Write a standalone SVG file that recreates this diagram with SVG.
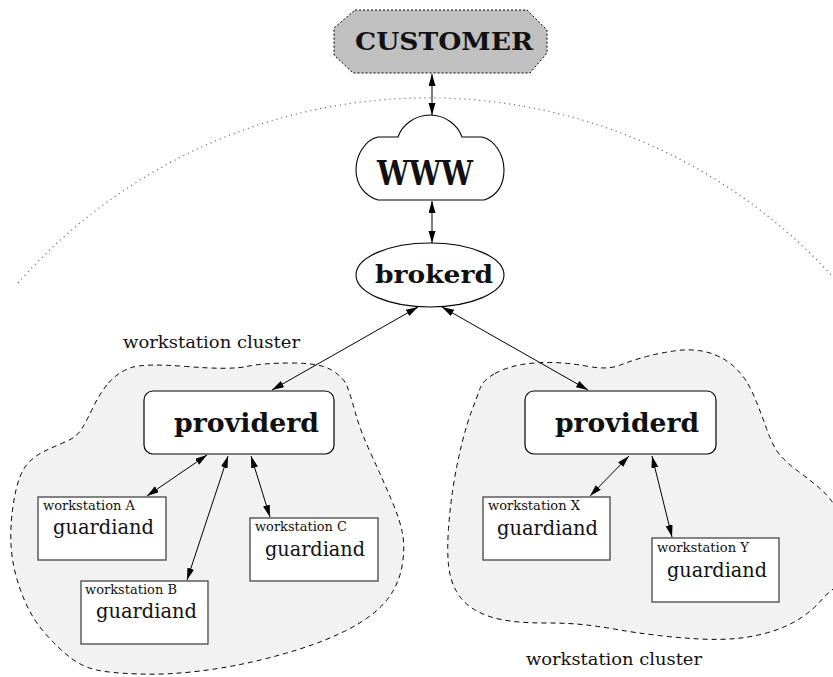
<svg xmlns="http://www.w3.org/2000/svg" width="833" height="677" viewBox="0 0 833 677">
<defs>
<marker id="ah" markerUnits="userSpaceOnUse" markerWidth="13" markerHeight="8" refX="12" refY="3.5" orient="auto-start-reverse">
<path d="M0,0 L12,3.5 L0,7 z" fill="#000"/>
</marker>
<style>
.t{font-family:"DejaVu Serif","Liberation Serif",serif;fill:#111}
.b{font-weight:bold}
.blob{fill:#f2f2f2;stroke:#000;stroke-width:1;stroke-dasharray:5 4}
.ws{fill:#fff;stroke:#444;stroke-width:1.3}
.prov{fill:#fff;stroke:#000;stroke-width:1.2}
.edge{stroke:#000;stroke-width:1;fill:none;marker-start:url(#ah);marker-end:url(#ah)}
</style>
</defs>
<rect width="833" height="677" fill="#fff"/>
<path id="boundary" d="M18,283 A547,547 0 0 1 833,277" fill="none" stroke="#555" stroke-width="1.2" stroke-dasharray="1 4"/>

<g id="cluster-left">
<path class="blob" d="M108.5,383 Q117,373 130,368 Q143,363 186.5,366.5 Q230,370 246.5,366.5 Q263,363 291.5,363 Q320,363 331.5,370 Q343,377 346.5,385 Q350,393 355,411.5 Q360,430 371.5,455 Q383,480 391.5,500 Q400,520 402.5,533.5 Q405,547 402.5,563.5 Q400,580 391.5,593.5 Q383,607 366.5,618.5 Q350,630 325,640 Q300,650 266.5,658.5 Q233,667 200,671 Q167,675 138.5,674 Q110,673 96.5,670 Q83,667 71.5,658.5 Q60,650 46.5,635 Q33,620 25,601.5 Q17,583 13.5,565 Q10,547 11,527 Q12,507 16,490 Q20,473 26.5,465 Q33,457 43,452 Q53,447 65,442 Q77,437 82,428.5 Q87,420 93.5,406.5 Q100,393 108.5,383 Z"/>
<text class="t" x="123" y="348" font-size="17.5" textLength="177" lengthAdjust="spacingAndGlyphs">workstation cluster</text>
</g>

<g id="cluster-right">
<path class="blob" d="M495,373.5 Q507,367 522,364.5 Q537,362 553.5,362.5 Q570,363 589,366.5 Q608,370 620.5,365 Q633,360 646.5,356.5 Q660,353 673.5,351 Q687,349 698.5,350.5 Q710,352 720,357 Q730,362 738.5,371 Q747,380 753.5,395 Q760,410 766.5,428.5 Q773,447 780,455 Q787,463 798.5,471.5 Q810,480 820,488.5 Q830,497 840,513.5 Q850,530 850,555 Q850,580 840,585 Q830,590 821.5,600 Q813,610 800,618.5 Q787,627 770,632 Q753,637 736.5,638.5 Q720,640 700,639 Q680,638 658.5,635.5 Q637,633 620,630 Q603,627 586.5,625 Q570,623 545,623 Q520,623 503.5,620 Q487,617 475,610 Q463,603 456.5,591.5 Q450,580 448.5,565 Q447,550 448.5,528.5 Q450,507 453.5,485 Q457,463 462,443 Q467,423 472,410 Q477,397 480,388.5 Q483,380 495,373.5 Z"/>
<text class="t" x="526" y="665" font-size="17.5" textLength="176" lengthAdjust="spacingAndGlyphs">workstation cluster</text>
</g>

<g id="customer">
<polygon points="355,10 527,10 547,30 547,53 530,73 353,73 334,55 334,28" fill="#c0c0c0" stroke="#000" stroke-width="1" stroke-dasharray="2 2"/>
<text class="t b" x="355" y="50" font-size="24" textLength="178" lengthAdjust="spacingAndGlyphs">CUSTOMER</text>
</g>

<g id="www">
<path d="M378,137 L398,137 C402,125 415,115 430,115 C445,115 458,125 462,137 L482,137 C495,140 504,155 504,170 C504,185 497,196 484,200 L378,200 C365,196 356,185 356,170 C356,155 365,140 378,137 Z" fill="#fff" stroke="#000" stroke-width="1.1"/>
<text class="t b" x="377" y="185" font-size="34" textLength="96" lengthAdjust="spacingAndGlyphs">WWW</text>
</g>

<g id="brokerd">
<ellipse cx="430" cy="275" rx="74" ry="32" fill="#fff" stroke="#000" stroke-width="1.1"/>
<text class="t b" x="375" y="283" font-size="24" textLength="118" lengthAdjust="spacingAndGlyphs">brokerd</text>
</g>

<g id="providerd-left">
<rect class="prov" x="144" y="391" width="190" height="63" rx="9"/>
<text class="t b" x="174" y="432" font-size="26" textLength="145" lengthAdjust="spacingAndGlyphs">providerd</text>
</g>

<g id="providerd-right">
<rect class="prov" x="525" y="391" width="191" height="63" rx="9"/>
<text class="t b" x="555" y="432" font-size="26" textLength="144" lengthAdjust="spacingAndGlyphs">providerd</text>
</g>

<g id="ws-a">
<rect class="ws" x="38" y="497" width="128" height="63"/>
<text class="t" x="43" y="510" font-size="12.5" textLength="92" lengthAdjust="spacingAndGlyphs">workstation A</text>
<text class="t" x="53" y="534" font-size="19.5" textLength="101" lengthAdjust="spacingAndGlyphs">guardiand</text>
</g>

<g id="ws-b">
<rect class="ws" x="81" y="581" width="127" height="63"/>
<text class="t" x="85" y="594" font-size="12.5" textLength="92" lengthAdjust="spacingAndGlyphs">workstation B</text>
<text class="t" x="96" y="618" font-size="19.5" textLength="101" lengthAdjust="spacingAndGlyphs">guardiand</text>
</g>

<g id="ws-c">
<rect class="ws" x="250" y="518" width="128" height="63"/>
<text class="t" x="255" y="531" font-size="12.5" textLength="92" lengthAdjust="spacingAndGlyphs">workstation C</text>
<text class="t" x="265" y="556" font-size="19.5" textLength="100" lengthAdjust="spacingAndGlyphs">guardiand</text>
</g>

<g id="ws-x">
<rect class="ws" x="483" y="497" width="127" height="63"/>
<text class="t" x="488" y="510" font-size="12.5" textLength="92" lengthAdjust="spacingAndGlyphs">workstation X</text>
<text class="t" x="497" y="535" font-size="19.5" textLength="101" lengthAdjust="spacingAndGlyphs">guardiand</text>
</g>

<g id="ws-y">
<rect class="ws" x="652" y="538" width="127" height="64"/>
<text class="t" x="657" y="552" font-size="12.5" textLength="92" lengthAdjust="spacingAndGlyphs">workstation Y</text>
<text class="t" x="667" y="577" font-size="19.5" textLength="100" lengthAdjust="spacingAndGlyphs">guardiand</text>
</g>

<g id="connectors">
<line class="edge" x1="432" y1="74" x2="432" y2="115"/>
<line class="edge" x1="432" y1="201" x2="432" y2="243"/>
<line class="edge" x1="418" y1="307" x2="272" y2="390"/>
<line class="edge" x1="442" y1="307" x2="588" y2="390"/>
<line class="edge" x1="207" y1="455" x2="147" y2="496"/>
<line class="edge" x1="228" y1="456" x2="187" y2="580"/>
<line class="edge" x1="251" y1="456" x2="270" y2="517"/>
<line class="edge" x1="629" y1="456" x2="590" y2="496"/>
<line class="edge" x1="652" y1="456" x2="672" y2="537"/>
</g>
</svg>
